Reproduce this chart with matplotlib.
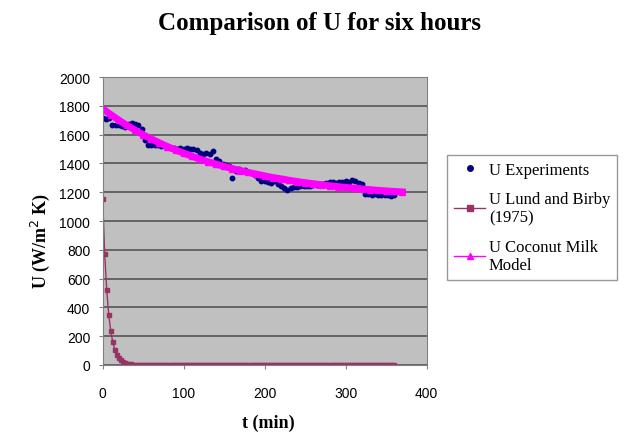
import matplotlib.pyplot as plt
import numpy as np

# experimental U, read every 4 min
t_exp = np.arange(0, 361, 4)
u_exp = [1715, 1705, 1712, 1670, 1665, 1668, 1662, 1650, 1672, 1678,
         1675, 1670, 1640, 1560, 1530, 1528, 1525, 1530, 1522, 1528,
         1520, 1505, 1505, 1500, 1508, 1502, 1505, 1498, 1500, 1490,
         1471, 1468, 1472, 1465, 1485, 1430, 1420, 1395, 1390, 1385,
         1300, 1350, 1360, 1350, 1355, 1340, 1330, 1320, 1300, 1280,
         1275, 1270, 1265, 1275, 1260, 1240, 1230, 1215, 1230, 1235,
         1235, 1240, 1245, 1240, 1245, 1250, 1250, 1255, 1255, 1265,
         1270, 1268, 1265, 1270, 1268, 1275, 1270, 1285, 1280, 1265,
         1260, 1190, 1185, 1180, 1185, 1178, 1182, 1178, 1180, 1175,
         1180]

# Lund and Birby (1975), every 2.5 min
t_lund = np.arange(0, 360.1, 2.5)
u_lund_start = [1150, 770, 520, 348, 236, 158, 106, 71, 48, 32,
                21, 14, 10, 6, 4, 3, 2, 1, 1]
u_lund = u_lund_start + [0] * (len(t_lund) - len(u_lund_start))

# coconut milk model, every 10 min
t_mod = np.arange(0, 371, 10)
u_mod = [1780, 1739, 1700, 1664, 1631, 1599, 1570, 1543, 1517, 1493,
         1471, 1450, 1430, 1412, 1395, 1379, 1364, 1350, 1337, 1325,
         1313, 1302, 1293, 1283, 1274, 1266, 1259, 1252, 1245, 1239,
         1233, 1228, 1223, 1218, 1213, 1209, 1205, 1202]

serif = ['Liberation Serif', 'DejaVu Serif']
sans = ['Liberation Sans', 'DejaVu Sans']

fig = plt.figure(figsize=(6.28, 4.39), dpi=100)
ax = fig.add_axes([0.1635, 0.1663, 0.516, 0.656])
ax.set_facecolor('#c0c0c0')

ax.plot(t_exp, u_exp, 'o', color='#000080', markersize=3.2, label='U Experiments')
ax.plot(t_lund, u_lund, '-s', color='#993366', markersize=3.5, linewidth=1,
        label='U Lund and Birby\n(1975)')
ax.plot(t_mod, u_mod, '-^', color='#ff00ff', markersize=5, linewidth=5,
        label='U Coconut Milk\nModel')

ax.set_xlim(0, 400)
ax.set_ylim(0, 2000)
ax.set_xticks(np.arange(0, 401, 100))
ax.set_yticks(np.arange(0, 2001, 200))
ax.yaxis.grid(True, color='#555555', linewidth=1.2)
ax.set_axisbelow(True)
for s in ax.spines.values():
    s.set_color('#808080')
ax.tick_params(direction='out', length=3, color='#808080', labelsize=10, pad=6)
ax.tick_params(axis='x', pad=12)
for lab in ax.get_xticklabels() + ax.get_yticklabels():
    lab.set_family(sans)

fig.text(0.427, 0.035, 't (min)', family=serif, fontsize=13, fontweight='bold',
         ha='center', va='center')
fig.text(0.064, 0.45, 'U (W/m$^2$ K)', family=serif, fontsize=13, fontweight='bold',
         ha='center', va='center', rotation=90)
fig.text(0.508, 0.947, 'Comparison of U for six hours', family=serif,
         fontsize=18, fontweight='bold', ha='center', va='center')

leg = fig.legend(loc='upper left', bbox_to_anchor=(0.712, 0.645), frameon=True,
                 fancybox=False, edgecolor='#808080', prop={'family': serif, 'size': 12},
                 labelspacing=0.8, handlelength=1.9, handletextpad=0.2,
                 borderpad=0.4, borderaxespad=0)
leg.get_frame().set_linewidth(1)
for h in leg.legend_handles:
    h.set_linewidth(1)
    h.set_markersize(4)

fig.savefig('out.png', dpi=100)
